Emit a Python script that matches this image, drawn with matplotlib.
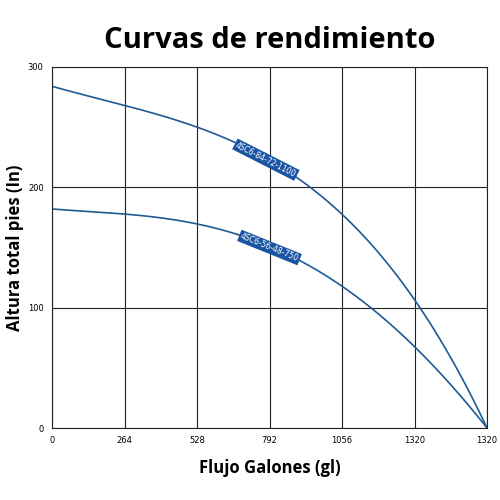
import matplotlib
matplotlib.use("Agg")
import matplotlib.pyplot as plt
import numpy as np

x_labels = ["0", "264", "528", "792", "1056", "1320", "1320"]
x_pos = [0, 1, 2, 3, 4, 5, 6]
curve1 = [284, 268, 250, 223, 177, 107, 0]
curve2 = [182, 178, 169, 152, 117, 68, 0]
names = ["4SC6-84-72-1100", "4SC6-56-48-750"]
y_ticks = [0, 100, 200, 300]

fig = plt.figure(figsize=(5, 5), dpi=100)
ax = fig.add_axes([0.104, 0.144, 0.87, 0.722])
blue = "#1f5a94"
for ys in (curve1, curve2):
    xs = np.linspace(0, 6, 200)
    c = np.polyfit(x_pos, ys, 4)
    ax.plot(xs, np.polyval(c, xs), color=blue, lw=1.2)
ax.set_xlim(0, 6)
ax.set_ylim(0, 300)
ax.set_xticks(x_pos)
ax.set_xticklabels(x_labels, fontsize=6)
ax.set_yticks(y_ticks)
ax.set_yticklabels([str(v) for v in y_ticks], fontsize=6)
ax.grid(True, color="#222222", lw=0.8)
for s in ax.spines.values():
    s.set_color("#222222")
ax.tick_params(length=0, pad=6)
ax.text(2.95, 223, names[0], rotation=-27, fontsize=5.5, color="white",
        ha="center", va="center", bbox=dict(boxstyle="square,pad=0.2", fc="#1a55a3", ec="none"))
ax.text(3.0, 150, names[1], rotation=-22, fontsize=5.5, color="white",
        ha="center", va="center", bbox=dict(boxstyle="square,pad=0.2", fc="#1a55a3", ec="none"))
fig.text(0.54, 0.92, "Curvas de rendimiento", ha="center", va="center",
         fontsize=21, fontweight="bold", family="Open Sans")
ax.set_xlabel("Flujo Galones (gl)", fontsize=12, fontweight="bold", family="Open Sans", labelpad=10)
ax.set_ylabel("Altura total pies (In)", fontsize=12, fontweight="bold", family="Open Sans", labelpad=3)
fig.savefig("out.png")
